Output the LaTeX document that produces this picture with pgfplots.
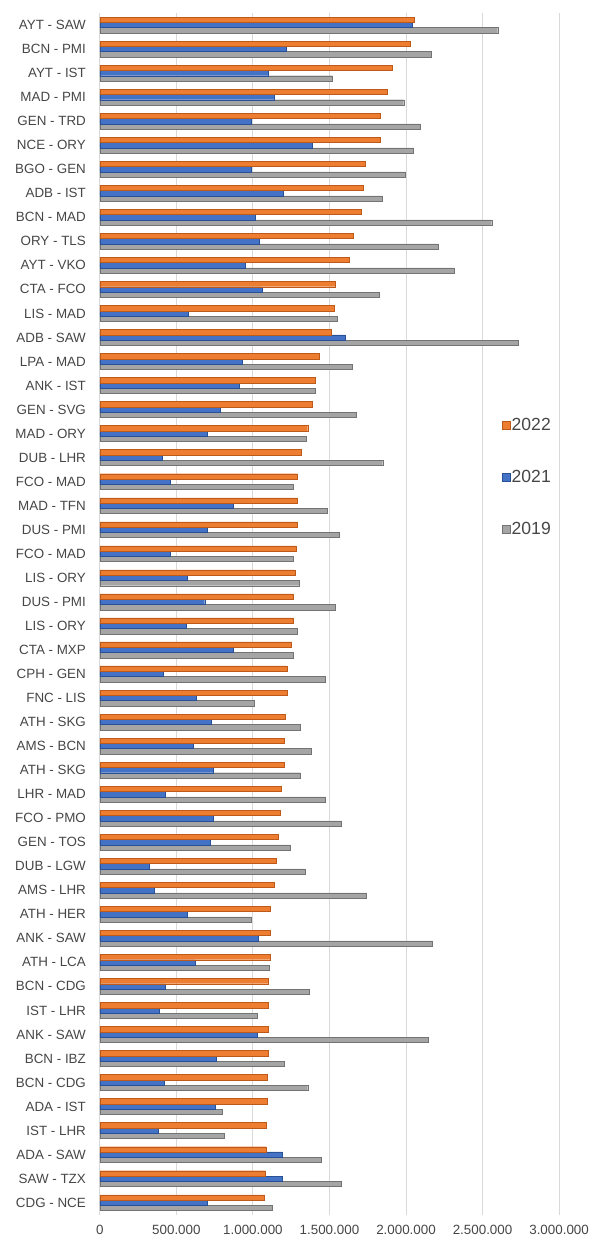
\documentclass[border=0pt]{standalone}
\usepackage{pgfplots}
\usepackage{pgfplotstable}
\usepackage{fontspec}
\setmainfont{Liberation Sans}
\pgfplotsset{compat=1.18}
\usetikzlibrary{calc}
\definecolor{c22}{RGB}{237,125,49}
\definecolor{c22d}{RGB}{190,90,25}
\definecolor{c21}{RGB}{68,114,196}
\definecolor{c21d}{RGB}{40,80,150}
\definecolor{c19}{RGB}{165,165,165}
\definecolor{c19d}{RGB}{115,115,115}
\definecolor{txt}{RGB}{70,70,70}
\definecolor{gridc}{RGB}{217,217,217}
\pgfplotstableread[col sep=comma]{
idx,name,y22,y21,y19
0,AYT - SAW,2055000,2043000,2599000
1,BCN - PMI,2026000,1217000,2164000
2,AYT - IST,1909000,1103000,1521000
3,MAD - PMI,1875000,1139000,1985000
4,GEN - TRD,1831000,989000,2094000
5,NCE - ORY,1829000,1389000,2050000
6,BGO - GEN,1732000,989000,1997000
7,ADB - IST,1722000,1197000,1844000
8,BCN - MAD,1710000,1013000,2560000
9,ORY - TLS,1654000,1044000,2208000
10,AYT - VKO,1632000,950000,2317000
11,CTA - FCO,1538000,1059000,1822000
12,LIS - MAD,1533000,578000,1552000
13,ADB - SAW,1513000,1601000,2735000
14,LPA - MAD,1431000,933000,1647000
15,ANK - IST,1406000,913000,1409000
16,GEN - SVG,1389000,785000,1676000
17,MAD - ORY,1358000,704000,1351000
18,DUB - LHR,1314000,408000,1848000
19,FCO - MAD,1287000,459000,1263000
20,MAD - TFN,1287000,874000,1487000
21,DUS - PMI,1287000,700000,1562000
22,FCO - MAD,1283000,459000,1263000
23,LIS - ORY,1275000,568000,1300000
24,DUS - PMI,1263000,685000,1540000
25,LIS - ORY,1263000,564000,1287000
26,CTA - MXP,1251000,874000,1263000
27,CPH - GEN,1224000,413000,1474000
28,FNC - LIS,1222000,632000,1006000
29,ATH - SKG,1210000,729000,1309000
30,AMS - BCN,1205000,612000,1380000
31,ATH - SKG,1202000,738000,1309000
32,LHR - MAD,1183000,430000,1472000
33,FCO - PMO,1176000,743000,1576000
34,GEN - TOS,1168000,724000,1241000
35,DUB - LGW,1151000,323000,1343000
36,AMS - LHR,1142000,355000,1742000
37,ATH - HER,1115000,568000,989000
38,ANK - SAW,1112000,1037000,2174000
39,ATH - LCA,1110000,622000,1108000
40,BCN - CDG,1103000,428000,1370000
41,IST - LHR,1100000,389000,1025000
42,ANK - SAW,1100000,1030000,2147000
43,BCN - IBZ,1098000,763000,1205000
44,BCN - CDG,1095000,423000,1358000
45,ADA - IST,1093000,753000,799000
46,IST - LHR,1088000,384000,814000
47,ADA - SAW,1086000,1190000,1445000
48,SAW - TZX,1081000,1190000,1574000
49,CDG - NCE,1076000,700000,1125000
}\routes
\begin{document}
\begin{tikzpicture}
\begin{axis}[
  name=ax,
  scale only axis,
  width=460bp, height=1203.7bp,
  xmin=0, xmax=3000000,
  ymin=-0.5, ymax=49.5,
  y dir=reverse,
  xbar=0pt,
  bar width=5.3bp,
  axis line style={draw=none},
  major tick length=0pt,
  xmajorgrids,
  grid style={gridc, line width=0.9bp},
  xtick={0,500000,1000000,1500000,2000000,2500000,3000000},
  xticklabels={0,500.000,1.000.000,1.500.000,2.000.000,2.500.000,3.000.000},
  scaled x ticks=false,
  ytick={0,...,49},
  yticklabels from table={\routes}{name},
  tick label style={font=\fontsize{13.4bp}{15bp}\selectfont, text=txt},
  yticklabel style={xshift=-10.5bp},
  xticklabel style={yshift=-7bp},
  legend style={at={(axis cs:2605000,18.81)}, anchor=west, draw=none, fill=none,
    font=\fontsize{17.6bp}{19bp}\selectfont, text=txt, row sep=35.5bp,
    nodes={inner sep=1.5bp}},
  legend cell align=left,
  reverse legend,
  legend image code/.code={\fill[#1] (0bp,-4bp) rectangle (8bp,4bp);},
]
\addplot[fill=c19, draw=c19d, line width=0.4bp] table[x=y19, y=idx]{\routes};
\addplot[fill=c21, draw=c21d, line width=0.4bp] table[x=y21, y=idx]{\routes};
\addplot[fill=c22, draw=c22d, line width=0.4bp] table[x=y22, y=idx]{\routes};
\legend{2019,2021,2022}
\end{axis}
\path[use as bounding box] ($(ax.south west)+(-100bp,-21.3bp)$) rectangle ($(ax.north east)+(25bp,13bp)$);
\end{tikzpicture}
\end{document}
